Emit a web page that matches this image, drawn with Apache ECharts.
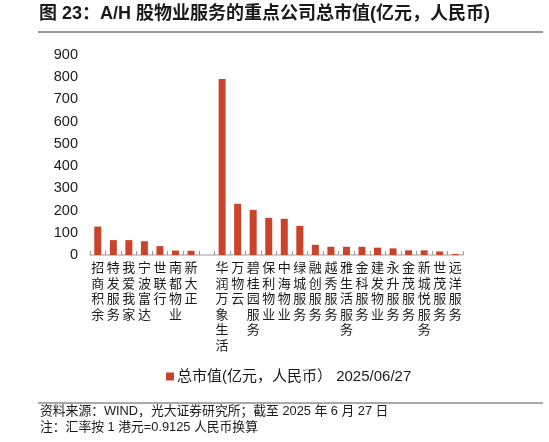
<!DOCTYPE html>
<html>
<head>
<meta charset="utf-8">
<script src="https://cdn.jsdelivr.net/npm/echarts@6/dist/echarts.min.js"></script>
<style>
html,body{margin:0;padding:0;background:#fff;}
#c{width:549px;height:442px;}
</style>
</head>
<body>
<div id="c"></div>
<script>
const categories = ['招商积余','特发服务','我爱我家','宁波富达','世联行','南都物业','新大正','',
  '华润万象生活','万物云','碧桂园服务','保利物业','中海物业','绿城服务','融创服务','越秀服务',
  '雅生活服务','金科服务','建发物业','永升服务','金茂服务','新城悦服务','世茂服务','远洋服务'];
const marketCap = [128, 67, 67, 62, 40, 20, 19, null,
  792, 230, 203, 167, 163, 131, 46, 37, 37, 37, 33, 30, 21, 21, 16, 5];
const yTicks = [0, 100, 200, 300, 400, 500, 600, 700, 800, 900];
const seriesName = '总市值(亿元，人民币） 2025/06/27';
const titleText = '图 23：A/H 股物业服务的重点公司总市值(亿元，人民币)';
const sourceText = '资料来源：WIND，光大证券研究所；截至 2025 年 6 月 27 日';
const noteText = '注：汇率按 1 港元=0.9125 人民币换算';

const FONT = '"Liberation Sans","Noto Sans CJK SC",sans-serif';
const chart = echarts.init(document.getElementById('c'), null, {renderer:'canvas'});
chart.setOption({
  backgroundColor:'#fff',
  animation:false,
  textStyle:{fontFamily:FONT},
  graphic:[
    {type:'text', left:39, top:5, style:{text:titleText, font:'bold 18px '+FONT, fill:'#1a1a1a'}},
    {type:'line', shape:{x1:38,y1:32,x2:543,y2:32}, style:{stroke:'#333',lineWidth:1}},
    {type:'line', shape:{x1:38,y1:403,x2:543,y2:403}, style:{stroke:'#555',lineWidth:1}},
    {type:'text', left:40, top:405, style:{text:sourceText, font:'12.8px '+FONT, fill:'#1a1a1a'}},
    {type:'text', left:40, top:421, style:{text:noteText, font:'12.8px '+FONT, fill:'#1a1a1a'}}
  ],
  legend:{
    show:true, left:161, top:364,
    itemWidth:8, itemHeight:8, itemGap:0,
    icon:'rect',
    textStyle:{fontSize:15, color:'#1a1a1a', padding:[0,0,0,-2]},
    data:[seriesName]
  },
  grid:{left:90, right:86, top:55, bottom:187, containLabel:false},
  xAxis:{
    type:'category',
    data:categories,
    boundaryGap:true,
    axisLine:{show:true, lineStyle:{color:'#bfbfbf', width:1.5}},
    axisTick:{show:true, inside:true, length:4, alignWithLabel:false, lineStyle:{color:'#999'}},
    axisLabel:{
      interval:0, margin:6, fontSize:13, lineHeight:15.5, color:'#1a1a1a',
      formatter:function(v){return v.split('').join('\n');},
      verticalAlign:'top'
    },
    splitLine:{show:false}
  },
  yAxis:{
    type:'value',
    min:yTicks[0], max:yTicks[yTicks.length-1], interval:100,
    axisLine:{show:false}, axisTick:{show:false}, splitLine:{show:false},
    axisLabel:{fontSize:14.5, color:'#1a1a1a', margin:12}
  },
  series:[{
    name:seriesName,
    type:'bar',
    data:marketCap,
    barWidth:7,
    itemStyle:{color:'#c9442a'}
  }]
});
</script>
</body>
</html>
